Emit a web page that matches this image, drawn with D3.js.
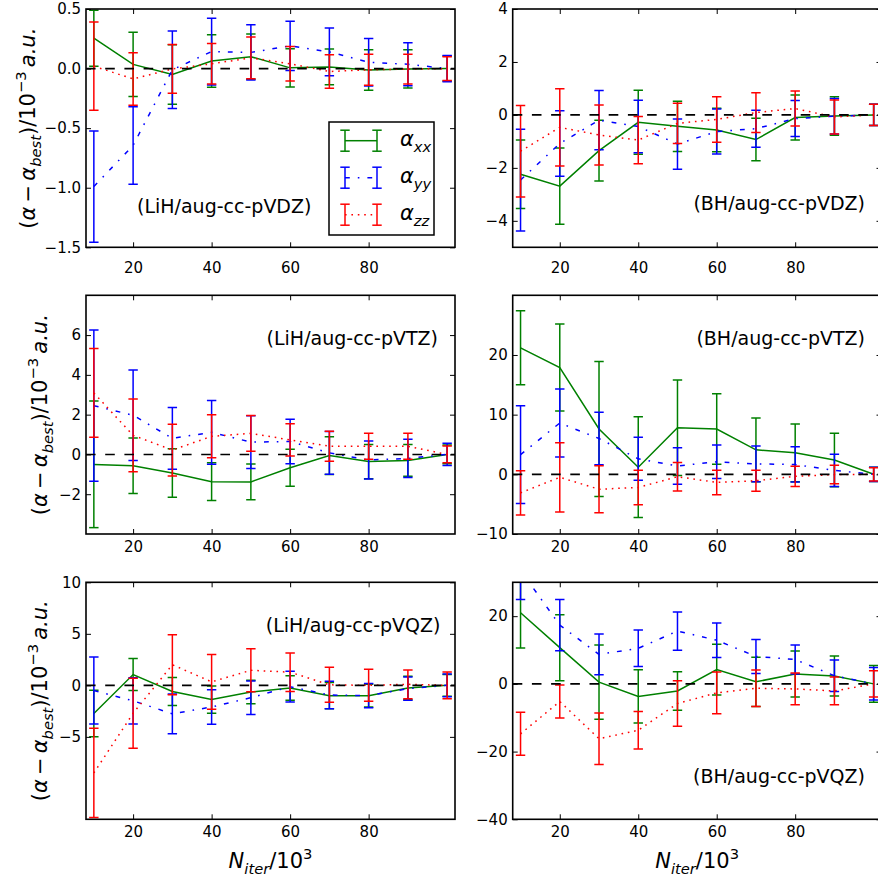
<!DOCTYPE html>
<html>
<head>
<meta charset="utf-8">
<script src="https://cdnjs.cloudflare.com/ajax/libs/d3/7.8.5/d3.min.js"></script>
<style>
  body { margin: 0; background: #fff; }
  svg { display: block; }
  text { font-family: "DejaVu Sans", sans-serif; }
</style>
</head>
<body>
<script>
// iterations (x, in units of 10^3)
var iters = [10, 20, 30, 40, 50, 60, 70, 80, 90, 100];
var iterTicks = [20, 40, 60, 80];

// LiH / aug-cc-pVDZ
var lihDzXx    = [0.255, 0.035, -0.05, 0.064, 0.10, 0.006, 0.014, -0.012, -0.003, 0.0];
var lihDzXxErr = [0.235, 0.27, 0.25, 0.22, 0.19, 0.16, 0.15, 0.17, 0.16, 0.105];
var lihDzYy    = [-0.99, -0.645, -0.01, 0.143, 0.136, 0.19, 0.14, 0.053, 0.036, 0.0];
var lihDzYyErr = [0.467, 0.325, 0.325, 0.28, 0.232, 0.207, 0.2, 0.2, 0.18, 0.11];
var lihDzZz    = [0.02, -0.087, -0.003, 0.04, 0.09, 0.04, -0.025, -0.01, -0.005, 0.0];
var lihDzZzErr = [0.37, 0.22, 0.205, 0.17, 0.175, 0.145, 0.14, 0.13, 0.125, 0.1];
var lihDzTicks = [-1.5, -1.0, -0.5, 0.0, 0.5];

// BH / aug-cc-pVDZ
var bhDzXx    = [-2.24, -2.69, -1.35, -0.28, -0.43, -0.57, -0.93, -0.1, -0.04, 0];
var bhDzXxErr = [1.29, 1.44, 1.15, 1.21, 0.95, 0.82, 0.8, 0.85, 0.73, 0.4];
var bhDzYy    = [-2.46, -1.08, -0.2, -0.44, -1.1, -0.63, -0.52, -0.14, -0.05, 0];
var bhDzYyErr = [1.92, 1.24, 1.12, 0.99, 0.95, 0.85, 0.7, 0.68, 0.67, 0.4];
var bhDzZz    = [-1.37, -0.47, -0.76, -0.95, -0.32, -0.17, 0.09, 0.24, -0.08, 0];
var bhDzZzErr = [1.73, 1.46, 1.13, 0.89, 0.76, 0.86, 0.75, 0.66, 0.64, 0.4];
var bhDzTicks = [-4, -2, 0, 2, 4];

// LiH / aug-cc-pVTZ
var lihTzXx    = [-0.5, -0.57, -0.93, -1.37, -1.38, -0.67, -0.06, -0.36, -0.3, 0];
var lihTzXxErr = [3.18, 1.4, 1.22, 0.95, 0.9, 0.93, 0.95, 0.86, 0.8, 0.47];
var lihTzYy    = [2.45, 1.97, 0.81, 1.11, 0.62, 0.65, 0.08, -0.28, -0.2, 0];
var lihTzYyErr = [3.8, 2.27, 1.55, 1.6, 1.33, 1.12, 1.07, 0.96, 0.96, 0.56];
var lihTzZz    = [3.09, 0.96, 0.22, 0.91, 1.06, 0.73, 0.41, 0.41, 0.41, 0];
var lihTzZzErr = [2.23, 1.83, 1.3, 1.08, 0.9, 0.81, 0.75, 0.65, 0.65, 0.42];
var lihTzTicks = [-2, 0, 2, 4, 6];

// BH / aug-cc-pVTZ
var bhTzXx    = [21.2, 17.9, 7.6, 1.2, 7.8, 7.6, 4.1, 3.6, 2.4, 0];
var bhTzXxErr = [6.2, 7.3, 11.3, 8.45, 8.0, 5.9, 5.35, 4.85, 4.5, 1.2];
var bhTzYy    = [3.3, 8.6, 6.0, 2.6, 1.4, 2.1, 1.75, 1.65, 0.65, 0];
var bhTzYyErr = [8.2, 5.7, 4.4, 3.6, 3.05, 2.8, 3.0, 2.95, 2.7, 1.2];
var bhTzZz    = [-3.1, -0.5, -2.5, -2.2, -0.4, -1.36, -1.07, -0.34, -0.05, 0];
var bhTzZzErr = [3.7, 5.8, 3.95, 2.9, 2.4, 2.06, 1.75, 1.7, 1.55, 1.1];
var bhTzTicks = [-10, 0, 10, 20];

// LiH / aug-cc-pVQZ
var lihQzXx    = [-2.74, 1.05, -0.6, -1.38, -0.65, -0.25, -1.0, -1.0, -0.26, 0];
var lihQzXxErr = [2.26, 1.55, 1.35, 1.32, 1.14, 1.19, 1.28, 1.1, 1.14, 1.05];
var lihQzYy    = [-0.5, -1.5, -2.76, -2.1, -1.2, -0.13, -0.94, -1.0, -0.32, 0];
var lihQzYyErr = [3.25, 2.24, 1.93, 1.67, 1.62, 1.49, 1.33, 1.17, 1.13, 1.1];
var lihQzZz    = [-8.5, -2.71, 2.0, 0.34, 1.46, 1.28, 0.05, 0.0, 0.1, 0];
var lihQzZzErr = [4.33, 3.39, 2.92, 2.65, 2.08, 1.87, 1.7, 1.55, 1.4, 1.3];
var lihQzTicks = [-5, 0, 5, 10];

// BH / aug-cc-pVQZ
var bhQzXx    = [21.0, 10.7, 0.5, -3.7, -2.1, 4.2, 0.6, 2.9, 2.3, 0];
var bhQzXxErr = [10.4, 9.75, 10.95, 7.85, 5.7, 7.5, 7.25, 6.8, 5.9, 5.4];
var bhQzYy    = [33.5, 17.35, 8.7, 10.5, 15.6, 12.9, 8.1, 7.2, 2.4, 0];
var bhQzYyErr = [8.6, 7.55, 6.0, 5.4, 5.65, 5.1, 5.0, 4.3, 4.65, 4.8];
var bhQzZz    = [-14.75, -5.2, -16.2, -13.7, -5.8, -2.65, -1.3, -1.5, -2.1, 0];
var bhQzZzErr = [6.35, 4.9, 7.6, 5.55, 6.75, 6.15, 5.4, 4.7, 4.1, 3.9];
var bhQzTicks = [-40, -20, 0, 20];

// layout
var colX = [[86, 455], [512.7, 881.5]];
var rowY = [[9, 247.3], [295.3, 534], [582.3, 819.3]];
var xTickPad = [15, 7, 7.5];
var tickLen = 5;

var series = [
  {key: "xx", color: "#008000", dash: null},
  {key: "yy", color: "#0000ff", dash: "4.8,8,1.6,8"},
  {key: "zz", color: "#ff0000", dash: "1.6,4.8"}
];

var panels = [
  {col: 0, row: 0, ylim: [-1.5, 0.5], yticks: lihDzTicks, fmt: d3.format(".1f"),
   name: "(LiH/aug-cc-pVDZ)", tx: 51, ty: 204, anchor: "start",
   xx: lihDzXx, xxErr: lihDzXxErr, yy: lihDzYy, yyErr: lihDzYyErr, zz: lihDzZz, zzErr: lihDzZzErr},
  {col: 1, row: 0, ylim: [-5, 4], yticks: bhDzTicks, fmt: d3.format("d"),
   name: "(BH/aug-cc-pVDZ)", tx: -16.5, ty: 200.5, anchor: "end",
   xx: bhDzXx, xxErr: bhDzXxErr, yy: bhDzYy, yyErr: bhDzYyErr, zz: bhDzZz, zzErr: bhDzZzErr},
  {col: 0, row: 1, ylim: [-4, 8], yticks: lihTzTicks, fmt: d3.format("d"),
   name: "(LiH/aug-cc-pVTZ)", tx: -17, ty: 49.7, anchor: "end",
   xx: lihTzXx, xxErr: lihTzXxErr, yy: lihTzYy, yyErr: lihTzYyErr, zz: lihTzZz, zzErr: lihTzZzErr},
  {col: 1, row: 1, ylim: [-10, 30], yticks: bhTzTicks, fmt: d3.format("d"),
   name: "(BH/aug-cc-pVTZ)", tx: -16.5, ty: 49.7, anchor: "end",
   xx: bhTzXx, xxErr: bhTzXxErr, yy: bhTzYy, yyErr: bhTzYyErr, zz: bhTzZz, zzErr: bhTzZzErr},
  {col: 0, row: 2, ylim: [-13, 10], yticks: lihQzTicks, fmt: d3.format("d"),
   name: "(LiH/aug-cc-pVQZ)", tx: -14.5, ty: 49.2, anchor: "end",
   xx: lihQzXx, xxErr: lihQzXxErr, yy: lihQzYy, yyErr: lihQzYyErr, zz: lihQzZz, zzErr: lihQzZzErr},
  {col: 1, row: 2, ylim: [-40, 30], yticks: bhQzTicks, fmt: d3.format("d"),
   name: "(BH/aug-cc-pVQZ)", tx: -16.5, ty: 200.7, anchor: "end",
   xx: bhQzXx, xxErr: bhQzXxErr, yy: bhQzYy, yyErr: bhQzYyErr, zz: bhQzZz, zzErr: bhQzZzErr}
];

var svg = d3.select("body")
  .append("svg")
  .attr("width", 878)
  .attr("height", 880);

// mathtext-ish label built from tspans
function addMath(text, parts, size) {
  var shift = 0;
  parts.forEach(function(p) {
    var target = p.sub ? size * 0.3 : (p.sup ? -size * 0.42 : 0);
    text.append("tspan")
      .attr("dy", target - shift)
      .attr("font-size", (p.sub || p.sup) ? size * 0.7 : size)
      .attr("font-style", p.i ? "italic" : "normal")
      .text(p.t);
    shift = target;
  });
}

var mathFont = "'DejaVu Serif', serif";
var yLabelParts = [
  {t: "("}, {t: "\u03b1", i: 1}, {t: "\u2009\u2212\u2009"}, {t: "\u03b1", i: 1}, {t: "best", i: 1, sub: 1},
  {t: ")/10"}, {t: "\u22123", sup: 1}, {t: "\u2009a.u.", i: 1}
];
var xLabelParts = [{t: "N", i: 1}, {t: "iter", i: 1, sub: 1}, {t: "/10"}, {t: "3", sup: 1}];

panels.forEach(function(p, i) {
  var x0 = colX[p.col][0], x1 = colX[p.col][1];
  var y0 = rowY[p.row][0], y1 = rowY[p.row][1];

  var xScale = d3.scaleLinear().domain([8, 102]).range([x0, x1]);
  var yScale = d3.scaleLinear().domain(p.ylim).range([y1, y0]);

  var g = svg.append("g");
  g.append("clipPath").attr("id", "clip" + i)
    .append("rect")
    .attr("x", x0).attr("y", y0)
    .attr("width", x1 - x0).attr("height", y1 - y0);

  var plot = g.append("g").attr("clip-path", "url(#clip" + i + ")");

  series.forEach(function(s) {
    var pts = iters.map(function(n, j) {
      return {n: n, v: p[s.key][j], e: p[s.key + "Err"][j]};
    });

    plot.append("path")
      .datum(pts)
      .attr("d", d3.line().x(d => xScale(d.n)).y(d => yScale(d.v)))
      .attr("fill", "none")
      .attr("stroke", s.color)
      .attr("stroke-width", 1.5)
      .attr("stroke-dasharray", s.dash);

    var bars = plot.append("g")
      .attr("stroke", s.color)
      .attr("stroke-width", 1.5);

    bars.selectAll(".bar")
      .data(pts)
      .enter()
      .append("line")
      .attr("class", "bar")
      .attr("x1", d => xScale(d.n))
      .attr("x2", d => xScale(d.n))
      .attr("y1", d => yScale(d.v - d.e))
      .attr("y2", d => yScale(d.v + d.e));

    ["lo", "hi"].forEach(function(side) {
      bars.selectAll(".cap-" + side)
        .data(pts)
        .enter()
        .append("line")
        .attr("class", "cap-" + side)
        .attr("x1", d => xScale(d.n) - 4.7)
        .attr("x2", d => xScale(d.n) + 4.7)
        .attr("y1", d => yScale(side == "lo" ? d.v - d.e : d.v + d.e))
        .attr("y2", d => yScale(side == "lo" ? d.v - d.e : d.v + d.e));
    });
  });

  // zero reference line
  plot.append("line")
    .attr("x1", x0).attr("x2", x1)
    .attr("y1", yScale(0)).attr("y2", yScale(0))
    .attr("stroke", "#000")
    .attr("stroke-width", 1.6)
    .attr("stroke-dasharray", "9.6,9.6");

  // axes, ticks inward on all sides
  var leftAxis = d3.axisLeft(yScale).tickValues(p.yticks).tickFormat(p.fmt)
    .tickSize(-tickLen).tickPadding(5);
  var rightAxis = d3.axisRight(yScale).tickValues(p.yticks).tickFormat("")
    .tickSize(-tickLen);
  var bottomAxis = d3.axisBottom(xScale).tickValues(iterTicks).tickFormat(d3.format("d"))
    .tickSize(-tickLen).tickPadding(xTickPad[p.row]);
  var topAxis = d3.axisTop(xScale).tickValues(iterTicks).tickFormat("")
    .tickSize(-tickLen);

  var axes = [
    [leftAxis, "translate(" + x0 + ",0)"],
    [rightAxis, "translate(" + x1 + ",0)"],
    [bottomAxis, "translate(0," + y1 + ")"],
    [topAxis, "translate(0," + y0 + ")"]
  ];
  axes.forEach(function(a) {
    var ag = g.append("g").attr("transform", a[1]).call(a[0]);
    ag.select(".domain").remove();
    ag.selectAll("line").attr("stroke", "#000").attr("stroke-width", 1);
    ag.selectAll("text")
      .attr("font-family", "'DejaVu Sans', sans-serif")
      .attr("font-size", 15)
      .attr("fill", "#000");
  });

  // frame
  g.append("rect")
    .attr("x", x0).attr("y", y0)
    .attr("width", x1 - x0).attr("height", y1 - y0)
    .attr("fill", "none")
    .attr("stroke", "#000")
    .attr("stroke-width", 1.6);

  // panel name
  g.append("text")
    .attr("x", p.anchor == "start" ? x0 + p.tx : x1 + p.tx)
    .attr("y", y0 + p.ty)
    .attr("text-anchor", p.anchor)
    .attr("font-size", 19)
    .text(p.name);

  if (p.col == 0) {
    var lx = p.row == 0 ? 35 : 47;
    var yl = g.append("text")
      .attr("transform", "translate(" + lx + "," + ((y0 + y1) / 2) + ") rotate(-90)")
      .attr("text-anchor", "middle")
      .attr("font-family", mathFont);
    addMath(yl, yLabelParts, 21);
  }
  if (p.row == 2) {
    var xl = g.append("text")
      .attr("x", (x0 + x1) / 2)
      .attr("y", 868)
      .attr("text-anchor", "middle")
      .attr("font-family", mathFont);
    addMath(xl, xLabelParts, 21);
  }
});

// legend (top-left panel)
var legend = svg.append("g");
legend.append("rect")
  .attr("x", 329).attr("y", 122)
  .attr("width", 105).attr("height", 113)
  .attr("fill", "#fff")
  .attr("stroke", "#000")
  .attr("stroke-width", 1.5);

var legendNames = ["xx", "yy", "zz"];
series.forEach(function(s, k) {
  var cy = 140.7 + k * 37;
  var row = legend.append("g").attr("stroke", s.color).attr("stroke-width", 1.5);
  row.append("line")
    .attr("x1", 345).attr("x2", 377)
    .attr("y1", cy).attr("y2", cy)
    .attr("stroke-dasharray", s.dash);
  [345, 377].forEach(function(ex) {
    row.append("line").attr("x1", ex).attr("x2", ex).attr("y1", cy - 10.5).attr("y2", cy + 10.5);
    row.append("line").attr("x1", ex - 4.7).attr("x2", ex + 4.7).attr("y1", cy - 10.5).attr("y2", cy - 10.5);
    row.append("line").attr("x1", ex - 4.7).attr("x2", ex + 4.7).attr("y1", cy + 10.5).attr("y2", cy + 10.5);
  });
  var lt = legend.append("text")
    .attr("x", 400)
    .attr("y", cy + 5)
    .attr("font-family", mathFont);
  addMath(lt, [{t: "\u03b1", i: 1}, {t: legendNames[k], i: 1, sub: 1}], 21);
});
</script>
</body>
</html>
